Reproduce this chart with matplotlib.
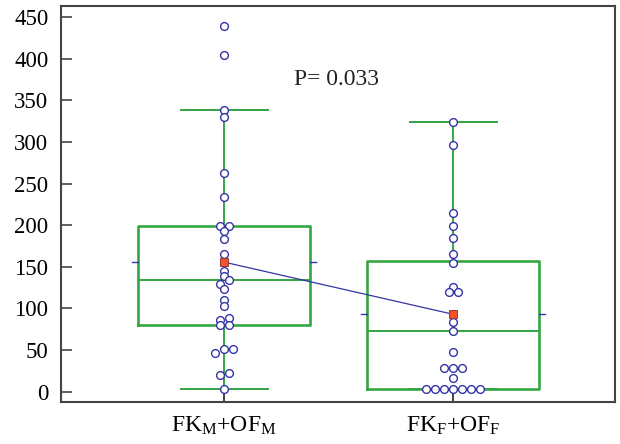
import numpy as np
import matplotlib.pyplot as plt

plt.rcParams['font.family'] = ['Liberation Serif', 'DejaVu Serif']
plt.rcParams['mathtext.fontset'] = 'custom'
plt.rcParams['mathtext.rm'] = 'Liberation Serif'
plt.rcParams['mathtext.default'] = 'regular'

# data
labels = ['FK$_{M}$+OF$_{M}$', 'FK$_{F}$+OF$_{F}$']
vals_m = [440, 405, 339, 330, 263, 234, 199, 199, 193, 183, 166, 145.6, 139,
          134, 129, 123, 110, 103, 88, 86, 80, 80, 51, 51, 46, 23, 20, 3.6]
vals_f = [324.5, 296, 214.7, 198.6, 184.6, 166, 155, 125.6, 119.6, 119.6, 84,
          73.4, 47.4, 28.9, 28.9, 28.9, 16, 3.6, 3.6, 3.6, 3.6, 3.6, 3.6, 3.6]
q1 = [80, 3.6]
med = [134, 73.4]
q3 = [198.6, 157]
whis_lo = [3.6, 3.6]
whis_hi = [339, 324.5]
means = [155.7, 93]
p_text = 'P= 0.033'

green = '#34a543'
navy = '#3535a5'
pos = [1, 2]

fig = plt.figure(figsize=(6.2, 4.44), dpi=100)
ax = fig.add_axes([0.098, 0.0946, 0.894, 0.892])
ax.set_xlim(0.287, 2.707)
ax.set_ylim(-12.4, 463.5)

stats = []
for i in range(2):
    stats.append(dict(q1=q1[i], med=med[i], q3=q3[i], whislo=whis_lo[i],
                      whishi=whis_hi[i], fliers=[]))
ax.bxp(stats, positions=pos, widths=0.75, capwidths=0.38, showfliers=False,
       boxprops=dict(color=green, lw=1.9),
       whiskerprops=dict(color=green, lw=1.4),
       capprops=dict(color=green, lw=1.4),
       medianprops=dict(color=green, lw=1.4), manage_ticks=False)

# swarm-ish spread of the dots, in pixels
fig.canvas.draw()
p0 = ax.transData.transform((0, 0))
p1 = ax.transData.transform((1, 1))
px_x = p1[0] - p0[0]
px_y = p1[1] - p0[1]

def swarm(vals, thresh_px=4.6, step_px=9.0):
    vals = np.asarray(vals, float)
    order = np.argsort(vals, kind='stable')
    offs = np.zeros(len(vals))
    clusters = []
    cur = [order[0]]
    for i in order[1:]:
        if (vals[i] - vals[cur[0]]) * px_y < thresh_px:
            cur.append(i)
        else:
            clusters.append(cur)
            cur = [i]
    clusters.append(cur)
    for c in clusters:
        k = len(c)
        for j, idx in enumerate(c):
            offs[idx] = (j - (k - 1) / 2) * step_px / px_x
    return offs

for p, vals in zip(pos, [vals_m, vals_f]):
    xs = p + swarm(vals)
    ax.plot(xs, vals, 'o', ms=5.6, mfc='white', mec=navy, mew=1.0, zorder=4)

# means
ax.plot(pos, means, '-', color=navy, lw=0.9, zorder=3)
ax.plot(pos, means, 's', ms=5.8, mfc='#f0522a', mec='#9a3a3a', mew=0.7, zorder=5)
for p, m in zip(pos, means):
    for s in (-1, 1):
        ax.plot([p + s * 0.375, p + s * 0.40], [m, m], color=navy, lw=1.0)

ax.text(1.49, 375, p_text, fontsize=17, ha='center', va='center', color='#222222')

ax.set_xticks(pos)
ax.set_xticklabels(labels, fontsize=17)
ax.set_yticks(np.arange(0, 451, 50))
ax.tick_params(axis='y', direction='in', length=8, width=1.2, color='#444444',
               labelsize=16.5, pad=9)
ax.tick_params(axis='x', direction='in', length=7, width=1.2, color='#222222',
               pad=9)
for sp in ax.spines.values():
    sp.set_color('#444444')
    sp.set_linewidth(1.5)

fig.savefig('out.png', dpi=100)
